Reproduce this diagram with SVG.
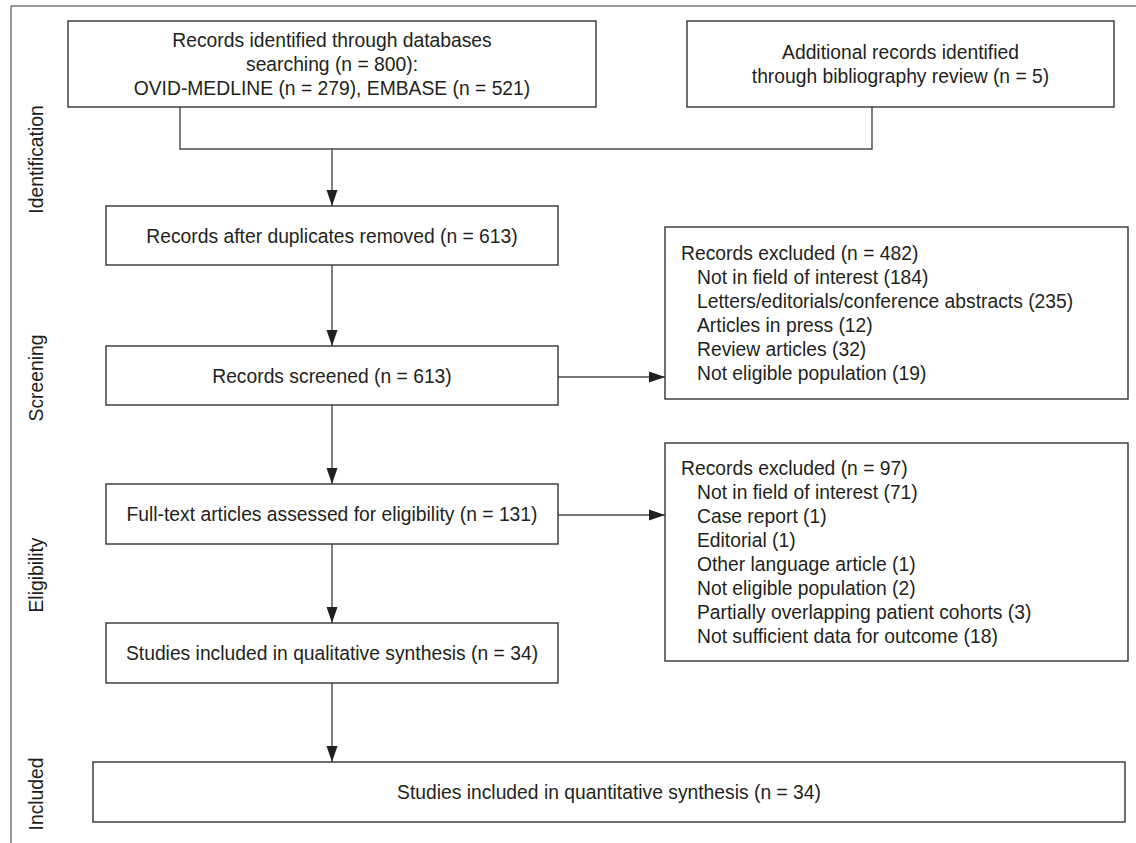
<svg xmlns="http://www.w3.org/2000/svg" width="1136" height="843" viewBox="0 0 1136 843">
  <defs>
    <marker id="arrow" markerUnits="userSpaceOnUse" markerWidth="16" markerHeight="12" refX="16" refY="6" orient="auto">
      <path d="M0,0.5 L16,6 L0,11.5 z" fill="#231f20"/>
    </marker>
    <style>
      .box { fill: #ffffff; stroke: #333333; stroke-width: 1.4; }
      .conn { fill: none; stroke: #4a4a4a; stroke-width: 1.4; }
      .frame { fill: none; stroke: #777777; stroke-width: 1.5; }
      text { font-family: "Liberation Sans", Arial, sans-serif; font-size: 19.3px; fill: #231f20; }
      .c { text-anchor: middle; }
    </style>
  </defs>

  <g id="frame">
    <path class="frame" d="M11,6 H1136 M11,6 V843"/>
  </g>

  <g id="phase-labels">
    <text class="c" transform="translate(43,159.5) rotate(-90)">Identification</text>
    <text class="c" transform="translate(43,378) rotate(-90)">Screening</text>
    <text class="c" transform="translate(43,575) rotate(-90)">Eligibility</text>
    <text class="c" transform="translate(43,794) rotate(-90)">Included</text>
  </g>

  <g id="connectors">
    <path class="conn" d="M180,107 V149 H872 V107"/>
    <path class="conn" d="M332,149 V206" marker-end="url(#arrow)"/>
    <path class="conn" d="M332,265 V346" marker-end="url(#arrow)"/>
    <path class="conn" d="M332,405 V484" marker-end="url(#arrow)"/>
    <path class="conn" d="M332,544 V623" marker-end="url(#arrow)"/>
    <path class="conn" d="M332,683 V762" marker-end="url(#arrow)"/>
    <path class="conn" d="M558,377 H665" marker-end="url(#arrow)"/>
    <path class="conn" d="M558,515 H665" marker-end="url(#arrow)"/>
  </g>

  <g id="node-databases">
    <rect class="box" x="68" y="21" width="528" height="86"/>
    <text class="c" x="332" y="47">Records identified through databases</text>
    <text class="c" x="332" y="71">searching (n = 800):</text>
    <text class="c" x="332" y="95">OVID-MEDLINE (n = 279), EMBASE (n = 521)</text>
  </g>

  <g id="node-additional">
    <rect class="box" x="687" y="21" width="427" height="86"/>
    <text class="c" x="900.5" y="59">Additional records identified</text>
    <text class="c" x="900.5" y="83">through bibliography review (n = 5)</text>
  </g>

  <g id="node-duplicates">
    <rect class="box" x="106" y="206" width="452" height="59"/>
    <text class="c" x="332" y="242.5">Records after duplicates removed (n = 613)</text>
  </g>

  <g id="node-screened">
    <rect class="box" x="106" y="346" width="452" height="59"/>
    <text class="c" x="332" y="382.5">Records screened (n = 613)</text>
  </g>

  <g id="node-excluded-1">
    <rect class="box" x="665" y="227" width="463" height="172"/>
    <text x="681" y="260">Records excluded (n = 482)</text>
    <text x="697" y="284">Not in field of interest (184)</text>
    <text x="697" y="308">Letters/editorials/conference abstracts (235)</text>
    <text x="697" y="332">Articles in press (12)</text>
    <text x="697" y="356">Review articles (32)</text>
    <text x="697" y="380">Not eligible population (19)</text>
  </g>

  <g id="node-fulltext">
    <rect class="box" x="106" y="484" width="452" height="60"/>
    <text class="c" x="332" y="521">Full-text articles assessed for eligibility (n = 131)</text>
  </g>

  <g id="node-excluded-2">
    <rect class="box" x="665" y="443" width="463" height="218"/>
    <text x="681" y="475">Records excluded (n = 97)</text>
    <text x="697" y="499">Not in field of interest (71)</text>
    <text x="697" y="523">Case report (1)</text>
    <text x="697" y="547">Editorial (1)</text>
    <text x="697" y="571">Other language article (1)</text>
    <text x="697" y="595">Not eligible population (2)</text>
    <text x="697" y="619">Partially overlapping patient cohorts (3)</text>
    <text x="697" y="643">Not sufficient data for outcome (18)</text>
  </g>

  <g id="node-qualitative">
    <rect class="box" x="106" y="623" width="452" height="60"/>
    <text class="c" x="332" y="660">Studies included in qualitative synthesis (n = 34)</text>
  </g>

  <g id="node-quantitative">
    <rect class="box" x="93" y="762" width="1032" height="60"/>
    <text class="c" x="609" y="799">Studies included in quantitative synthesis (n = 34)</text>
  </g>
</svg>
